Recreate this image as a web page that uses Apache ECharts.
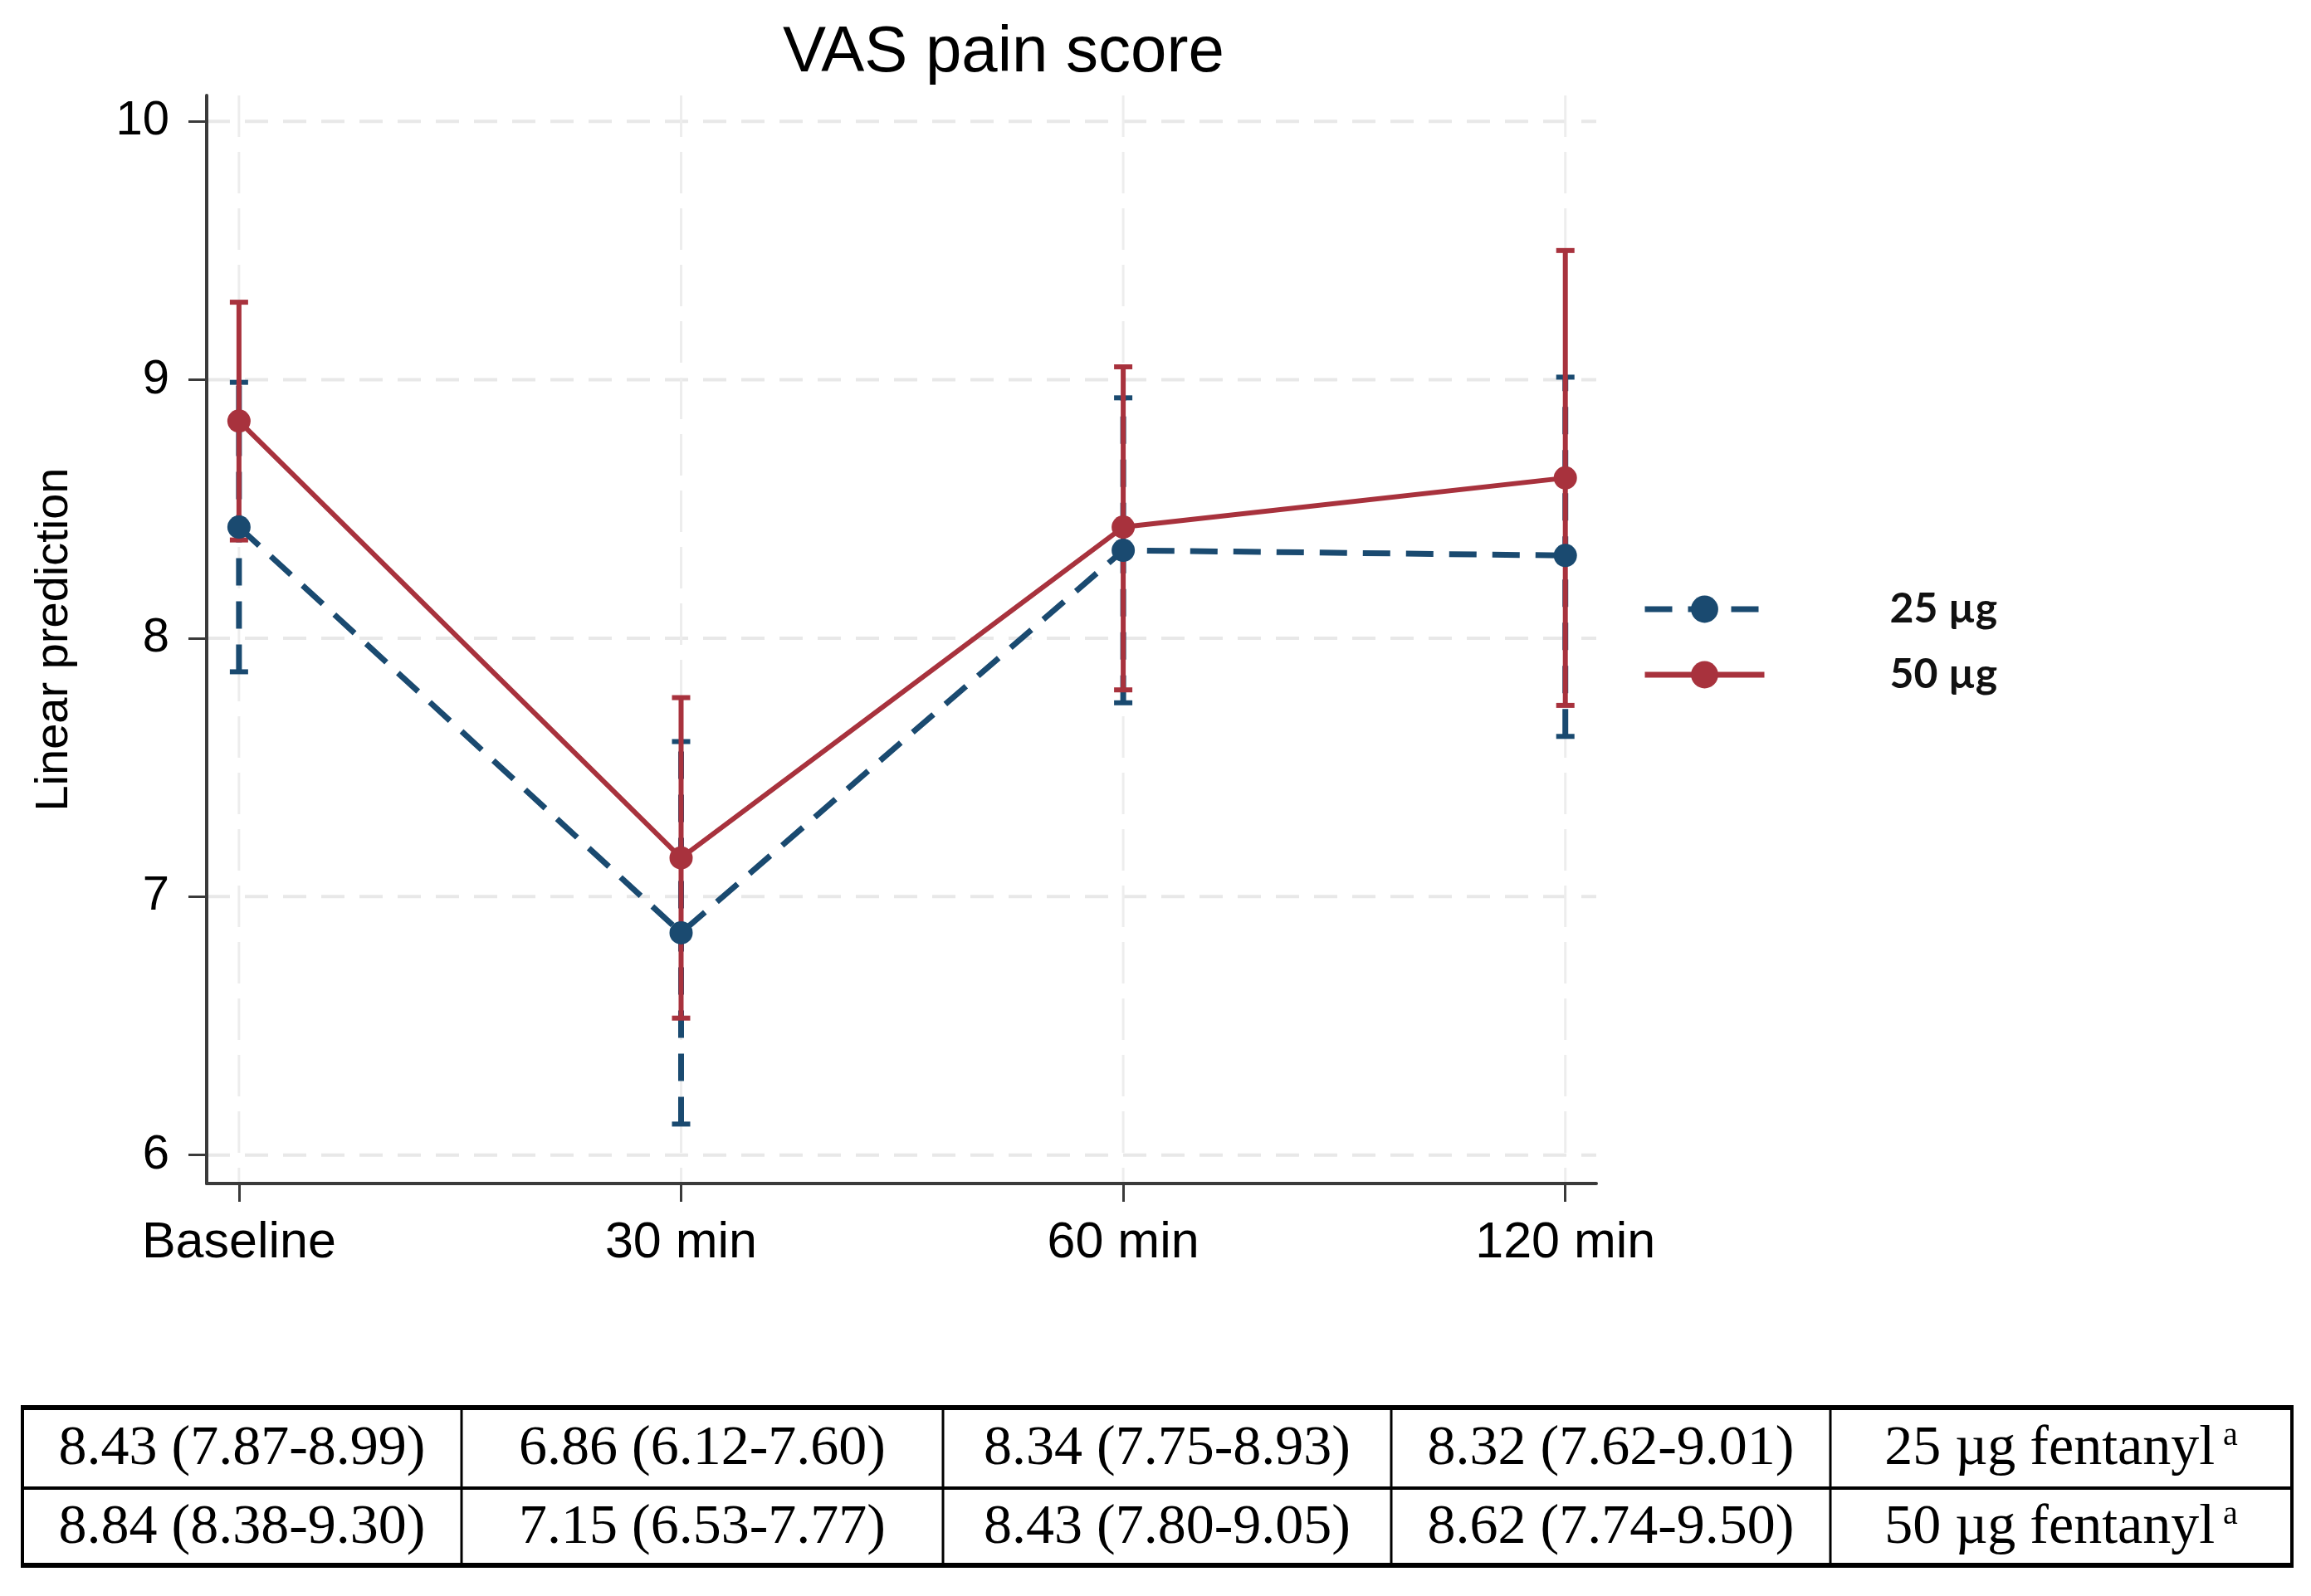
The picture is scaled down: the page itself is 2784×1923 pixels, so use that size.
<!DOCTYPE html>
<html><head><meta charset="utf-8">
<script src="https://cdn.jsdelivr.net/npm/echarts@6/dist/echarts.min.js"></script>
<style>html,body{margin:0;padding:0;background:#fff}#c{width:2784px;height:1923px}</style>
</head><body><div id="c"></div>
<script>
const categories = ['Baseline', '30 min', '60 min', '120 min'];
const yTicks = [6, 7, 8, 9, 10];
const seriesNames = ['25 µg', '50 µg'];
const tableRowLabels = ['25 µg fentanyl', '50 µg fentanyl'];
const mean25 = [8.43, 6.86, 8.34, 8.32];
const lower25 = [7.87, 6.12, 7.75, 7.62];
const upper25 = [8.99, 7.60, 8.93, 9.01];
const mean50 = [8.84, 7.15, 8.43, 8.62];
const lower50 = [8.38, 6.53, 7.80, 7.74];
const upper50 = [9.30, 7.77, 9.05, 9.50];

const BLUE = '#1a4a70';
const RED = '#a8323d';
const DASH = [33, 19];
const xIdx = categories.map((c, i) => i);

function errRender(color, dashed, w) {
  return function (params, api) {
    const x = api.value(0), lo = api.value(1), hi = api.value(2);
    const a = api.coord([x, lo]), b = api.coord([x, hi]);
    const hw = 11;
    const capStyle = { stroke: color, lineWidth: 6 };
    return {
      type: 'group', children: [
        { type: 'line', shape: { x1: a[0], y1: a[1], x2: b[0], y2: b[1] },
          style: { stroke: color, lineWidth: w, lineDash: dashed ? DASH : null } },
        { type: 'line', shape: { x1: a[0] - hw, y1: a[1], x2: a[0] + hw, y2: a[1] }, style: capStyle },
        { type: 'line', shape: { x1: b[0] - hw, y1: b[1], x2: b[0] + hw, y2: b[1] }, style: capStyle }
      ]
    };
  };
}

function gridRender(params, api) {
  const cs = params.coordSys;
  const kind = api.value(0), v = api.value(1);
  if (kind === 0) {
    const p = api.coord([0, v]);
    return { type: 'line', shape: { x1: cs.x, y1: p[1], x2: cs.x + cs.width, y2: p[1] },
      style: { stroke: '#e8e8e8', lineWidth: 4, lineDash: [28, 18] } };
  } else {
    const p = api.coord([v, yTicks[0]]);
    return { type: 'line', shape: { x1: p[0], y1: cs.y, x2: p[0], y2: cs.y + cs.height },
      style: { stroke: '#ededed', lineWidth: 3, lineDash: [50, 18] } };
  }
}

const gridData = yTicks.map(v => [0, v]).concat(xIdx.map(i => [1, i]));

const chart = echarts.init(document.getElementById('c'), null, { renderer: 'canvas' });

// table graphics
const tLeft = 27, tRight = 2761, tTop = 1696, tMid = 1793, tBot = 1886;
const colX = [27, 556, 1136, 1676, 2205, 2761];
const graphics = [];
const ln = (x1, y1, x2, y2, w) => graphics.push({ type: 'line', shape: { x1, y1, x2, y2 }, style: { stroke: '#000', lineWidth: w } });
ln(tLeft - 2, tTop, tRight + 2, tTop, 6);
ln(tLeft - 2, tMid, tRight + 2, tMid, 4);
ln(tLeft - 2, tBot, tRight + 2, tBot, 6);
colX.forEach((x, i) => ln(x, tTop, x, tBot, (i === 0 || i === colX.length - 1) ? 4 : 3));
const rows = [[mean25, lower25, upper25], [mean50, lower50, upper50]];
const rowY = [(tTop + tMid) / 2, (tMid + tBot) / 2];
rows.forEach((r, ri) => {
  categories.forEach((c, ci) => {
    const txt = r[0][ci].toFixed(2) + ' (' + r[1][ci].toFixed(2) + '-' + r[2][ci].toFixed(2) + ')';
    graphics.push({ type: 'text', x: (colX[ci] + colX[ci + 1]) / 2, y: rowY[ri] + 2,
      style: { text: txt, font: '68px "Liberation Serif"', fill: '#000', align: 'center', verticalAlign: 'middle' } });
  });
  graphics.push({ type: 'text', x: (colX[4] + colX[5]) / 2, y: rowY[ri] + 2,
    style: { text: '{m|' + tableRowLabels[ri] + '}{s| a}', align: 'center', verticalAlign: 'middle',
      rich: { m: { fontFamily: 'Liberation Serif', fontSize: 68, color: '#000' },
              s: { fontFamily: 'Liberation Serif', fontSize: 40, color: '#000', verticalAlign: 'top', padding: [0, 0, 32, 0] } } } });
});

const option = {
  backgroundColor: '#fff',
  animation: false,
  title: {
    text: 'VAS pain score', left: 938, top: 20,
    textStyle: { fontFamily: 'Liberation Sans', fontSize: 78, fontWeight: 'normal', color: '#000' }
  },
  legend: {
    orient: 'vertical', left: 1973, top: 704,
    itemWidth: 144, itemHeight: 41, itemGap: 29,
    data: seriesNames,
    lineStyle: { width: 7 },
    formatter: name => '{g|}{t|' + name + '}',
    textStyle: { rich: { g: { width: 146 }, t: { fontFamily: 'Lato', fontWeight: 'bold', fontSize: 50, color: '#111' } } }
  },
  grid: { left: 249, right: 861, top: 115, bottom: 497 },
  xAxis: {
    type: 'value', min: -0.073, max: 3.07,
    axisLine: { show: true, onZero: false, lineStyle: { color: '#3a3a3a', width: 4 } },
    axisTick: { show: true, length: 22, lineStyle: { color: '#3a3a3a', width: 3 }, customValues: xIdx },
    axisLabel: { customValues: xIdx, formatter: v => categories[Math.round(v)], margin: 42,
      fontFamily: 'Liberation Sans', fontSize: 61, color: '#000' },
    splitLine: { show: false }
  },
  yAxis: {
    type: 'value', min: 5.89, max: 10.1,
    name: 'Linear prediction', nameLocation: 'middle', nameGap: 155, nameRotate: 90,
    nameTextStyle: { fontFamily: 'Liberation Sans', fontSize: 56, color: '#000' },
    axisLine: { show: true, onZero: false, lineStyle: { color: '#3a3a3a', width: 4 } },
    axisTick: { show: true, length: 22, lineStyle: { color: '#3a3a3a', width: 3 }, customValues: yTicks },
    axisLabel: { customValues: yTicks, formatter: v => String(Math.round(v)), margin: 45,
      fontFamily: 'Liberation Sans', fontSize: 58, color: '#000' },
    splitLine: { show: false }
  },
  graphic: graphics,
  series: [
    { type: 'custom', name: 'grid', renderItem: gridRender, data: gridData, z: 0, silent: true,
      encode: { x: -1, y: -1 } },
    { type: 'custom', name: 'ci25', renderItem: errRender(BLUE, true, 7), z: 1,
      data: xIdx.map(i => [i, lower25[i], upper25[i]]), encode: { x: 0, y: [1, 2] } },
    { type: 'custom', name: 'ci50', renderItem: errRender(RED, false, 6), z: 2,
      data: xIdx.map(i => [i, lower50[i], upper50[i]]), encode: { x: 0, y: [1, 2] } },
    { type: 'line', name: seriesNames[1], z: 3, data: xIdx.map(i => [i, mean50[i]]),
      symbol: 'circle', symbolSize: 28, color: RED,
      lineStyle: { color: RED, width: 6 }, itemStyle: { color: RED } },
    { type: 'line', name: seriesNames[0], z: 4, data: xIdx.map(i => [i, mean25[i]]),
      symbol: 'circle', symbolSize: 28, color: BLUE,
      lineStyle: { color: BLUE, width: 7, type: DASH }, itemStyle: { color: BLUE } }
  ]
};
chart.setOption(option);
</script>
</body></html>
